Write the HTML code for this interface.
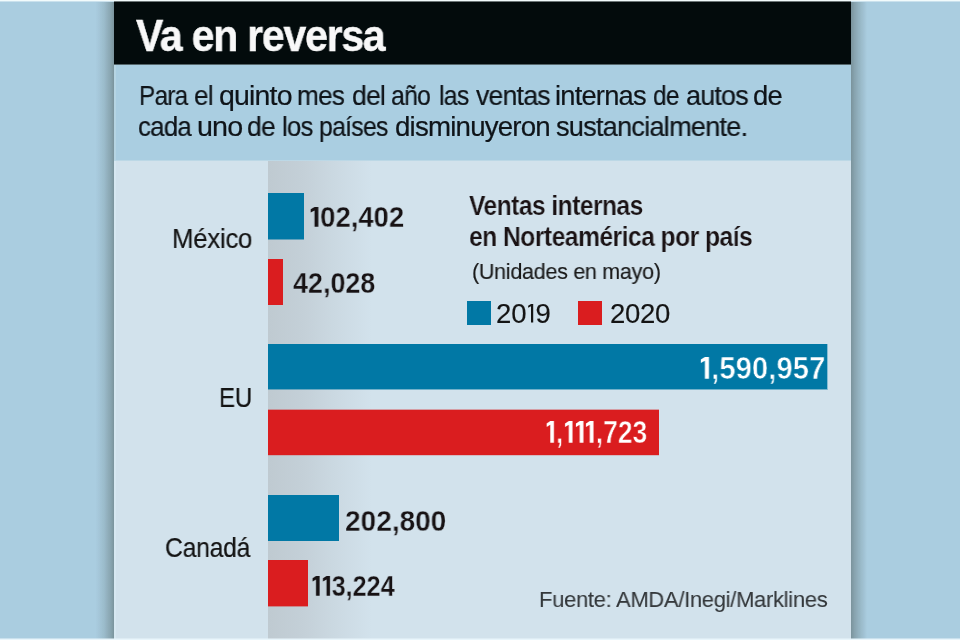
<!DOCTYPE html>
<html><head><meta charset="utf-8"><style>
html,body{margin:0;padding:0;}
body{width:960px;height:640px;position:relative;overflow:hidden;background:#aacde0;font-family:"Liberation Sans",sans-serif;}
.t{position:absolute;white-space:nowrap;}
body>div{will-change:transform;}
.r{position:absolute;}
</style></head><body>
<div class="r" style="left:96px;top:2px;width:18px;height:637px;background:linear-gradient(to right, rgba(122,147,155,0) 0%, rgba(122,147,155,0.3) 45%, rgba(122,147,155,0.75) 85%, rgba(122,147,155,1) 100%);"></div>
<div class="r" style="left:851px;top:2px;width:16px;height:637px;background:linear-gradient(to left, rgba(122,147,155,0) 0%, rgba(122,147,155,0.35) 40%, rgba(122,147,155,0.75) 80%, rgba(122,147,155,1) 100%);"></div>
<div class="r" style="left:114px;top:1px;width:737px;height:63px;background:#030b0c;"></div>
<div class="r" style="left:114px;top:64px;width:737px;height:1px;background:#56676c;"></div>
<div class="r" style="left:114px;top:65px;width:737px;height:95px;background:#aacee1;"></div>
<div class="r" style="left:114px;top:160px;width:737px;height:1px;background:#bcd8e6;"></div>
<div class="r" style="left:114px;top:161px;width:737px;height:478px;background:#d2e2ec;"></div>
<div class="r" style="left:114px;top:65px;width:2px;height:95px;background:#b6d5e3;"></div>
<div class="r" style="left:114px;top:161px;width:2px;height:478px;background:#d7e8f1;"></div>
<div class="r" style="left:268px;top:161px;width:104px;height:478px;background:linear-gradient(to right, #bfcad1 0%, #c4d0d8 35%, #cbd9e2 65%, #d2e2ec 100%);"></div>
<div class="r" style="left:268px;top:193px;width:36px;height:46px;background:#0178a5;"></div>
<div class="r" style="left:268px;top:239px;width:36px;height:1px;background:rgba(1,120,165,0.5);"></div>
<div class="r" style="left:268px;top:259px;width:15px;height:46px;background:#da1d1f;"></div>
<div class="r" style="left:268px;top:344px;width:559px;height:45px;background:#0178a5;"></div>
<div class="r" style="left:268px;top:389px;width:559px;height:1px;background:rgba(1,120,165,0.45);"></div>
<div class="r" style="left:827px;top:344px;width:1px;height:46px;background:rgba(1,120,165,0.35);"></div>
<div class="r" style="left:268px;top:410px;width:391px;height:45px;background:#da1d1f;"></div>
<div class="r" style="left:268px;top:409px;width:391px;height:1px;background:rgba(218,29,31,0.35);"></div>
<div class="r" style="left:268px;top:455px;width:391px;height:1px;background:rgba(218,29,31,0.2);"></div>
<div class="r" style="left:268px;top:495px;width:71px;height:46px;background:#0178a5;"></div>
<div class="r" style="left:268px;top:560px;width:40px;height:46px;background:#da1d1f;"></div>
<div class="r" style="left:268px;top:606px;width:40px;height:1px;background:rgba(218,29,31,0.4);"></div>
<div class="r" style="left:467px;top:301px;width:24px;height:24px;background:#0178a5;"></div>
<div class="r" style="left:578px;top:301px;width:24px;height:24px;background:#da1d1f;"></div>
<div style="position:absolute;white-space:nowrap;left:135.53px;top:12.60px;font-size:45px;line-height:45px;font-weight:700;letter-spacing:-1.3px;transform:scaleX(0.9091);transform-origin:0 0;color:#f8f8f8;-webkit-text-stroke:0.5px #f8f8f8;">Va en reversa</div>
<div style="position:absolute;white-space:nowrap;left:171.68px;top:224.59px;font-size:28px;line-height:28px;font-weight:400;letter-spacing:-0.3px;transform:scaleX(0.9222);transform-origin:0 0;color:#141414;-webkit-text-stroke:0.2px #141414;">México</div>
<div style="position:absolute;white-space:nowrap;left:219.28px;top:383.99px;font-size:28px;line-height:28px;font-weight:400;letter-spacing:-0.3px;transform:scaleX(0.8591);transform-origin:0 0;color:#141414;-webkit-text-stroke:0.2px #141414;">EU</div>
<div style="position:absolute;white-space:nowrap;left:165.21px;top:533.99px;font-size:28px;line-height:28px;font-weight:400;letter-spacing:-0.3px;transform:scaleX(0.8837);transform-origin:0 0;color:#141414;-webkit-text-stroke:0.2px #141414;">Canadá</div>
<div style="position:absolute;white-space:nowrap;left:308.90px;top:202.53px;font-size:28.9px;line-height:28.9px;font-weight:700;transform:scaleX(0.9487);transform-origin:0 0;color:#171214;-webkit-text-stroke:0.3px #cfdee7;"><svg width="0.41em" height="0.688em" viewBox="0 0 410 688" style="vertical-align:baseline" fill="currentColor"><path d="M200 0H340V688H200V118L60 190V82Z"/></svg>02,402</div>
<div style="position:absolute;white-space:nowrap;left:292.52px;top:268.53px;font-size:28.9px;line-height:28.9px;font-weight:700;transform:scaleX(0.9314);transform-origin:0 0;color:#171214;-webkit-text-stroke:0.3px #cbd9e2;">42,028</div>
<div style="position:absolute;white-space:nowrap;left:698.95px;top:352.83px;font-size:31.5px;line-height:31.5px;font-weight:700;transform:scaleX(0.9321);transform-origin:0 0;color:#ffffff;-webkit-text-stroke:0.6px #0178a5;"><svg width="0.41em" height="0.688em" viewBox="0 0 410 688" style="vertical-align:baseline" fill="currentColor"><path d="M200 0H340V688H200V118L60 190V82Z"/></svg>,590,957</div>
<div style="position:absolute;white-space:nowrap;left:544.87px;top:416.83px;font-size:31.5px;line-height:31.5px;font-weight:700;transform:scaleX(0.8393);transform-origin:0 0;color:#ffffff;-webkit-text-stroke:0.6px #da1d1f;"><svg width="0.41em" height="0.688em" viewBox="0 0 410 688" style="vertical-align:baseline" fill="currentColor"><path d="M200 0H340V688H200V118L60 190V82Z"/></svg>,<svg width="0.41em" height="0.688em" viewBox="0 0 410 688" style="vertical-align:baseline" fill="currentColor"><path d="M200 0H340V688H200V118L60 190V82Z"/></svg><svg width="0.41em" height="0.688em" viewBox="0 0 410 688" style="vertical-align:baseline" fill="currentColor"><path d="M200 0H340V688H200V118L60 190V82Z"/></svg><svg width="0.41em" height="0.688em" viewBox="0 0 410 688" style="vertical-align:baseline" fill="currentColor"><path d="M200 0H340V688H200V118L60 190V82Z"/></svg>,723</div>
<div style="position:absolute;white-space:nowrap;left:345.03px;top:507.13px;font-size:28.9px;line-height:28.9px;font-weight:700;transform:scaleX(0.9706);transform-origin:0 0;color:#171214;-webkit-text-stroke:0.3px #d1e1eb;">202,800</div>
<div style="position:absolute;white-space:nowrap;left:310.81px;top:571.73px;font-size:28.9px;line-height:28.9px;font-weight:700;transform:scaleX(0.8711);transform-origin:0 0;color:#171214;-webkit-text-stroke:0.3px #cad8e1;"><svg width="0.41em" height="0.688em" viewBox="0 0 410 688" style="vertical-align:baseline" fill="currentColor"><path d="M200 0H340V688H200V118L60 190V82Z"/></svg><svg width="0.41em" height="0.688em" viewBox="0 0 410 688" style="vertical-align:baseline" fill="currentColor"><path d="M200 0H340V688H200V118L60 190V82Z"/></svg>3,224</div>
<div style="position:absolute;white-space:nowrap;left:468.54px;top:193.42px;font-size:26.9px;line-height:26.9px;font-weight:700;letter-spacing:-0.6px;transform:scaleX(0.9154);transform-origin:0 0;color:#1a1214;-webkit-text-stroke:0.2px #d2e2ec;">Ventas internas</div>
<div style="position:absolute;white-space:nowrap;left:468.62px;top:223.52px;font-size:26.9px;line-height:26.9px;font-weight:700;letter-spacing:-0.6px;transform:scaleX(0.9183);transform-origin:0 0;color:#1a1214;-webkit-text-stroke:0.2px #d2e2ec;">en Norteamérica por país</div>
<div style="position:absolute;white-space:nowrap;left:471.83px;top:260.67px;font-size:22px;line-height:22px;font-weight:400;letter-spacing:-0.3px;transform:scaleX(0.9791);transform-origin:0 0;color:#1a1a1a;-webkit-text-stroke:0.15px #1a1a1a;">(Unidades en mayo)</div>
<div style="position:absolute;white-space:nowrap;left:495.67px;top:301.14px;font-size:27px;line-height:27px;font-weight:400;transform:scaleX(1.0205);transform-origin:0 0;color:#141414;-webkit-text-stroke:0.15px #141414;">20<svg width="0.32em" height="0.688em" viewBox="0 0 320 688" style="vertical-align:baseline" fill="currentColor"><path d="M160 0H240V688H160V80L55 135V62Z"/></svg>9</div>
<div style="position:absolute;white-space:nowrap;left:610.14px;top:301.14px;font-size:27px;line-height:27px;font-weight:400;letter-spacing:-0.3px;transform:scaleX(1.0196);transform-origin:0 0;color:#141414;-webkit-text-stroke:0.15px #141414;">2020</div>
<div style="position:absolute;white-space:nowrap;left:538.88px;top:588.40px;font-size:22.8px;line-height:22.8px;font-weight:400;letter-spacing:-0.3px;transform:scaleX(0.9630);transform-origin:0 0;color:#34383b;-webkit-text-stroke:0.1px #34383b;">Fuente: AMDA/Inegi/Marklines</div>
<div style="position:absolute;white-space:nowrap;left:139.03px;top:82.49px;font-size:27.3px;line-height:27.3px;font-weight:400;letter-spacing:-0.8px;transform:scaleX(0.8908);transform-origin:0 0;color:#0f1419;-webkit-text-stroke:0.2px #0f1419;">Para</div>
<div style="position:absolute;white-space:nowrap;left:194.04px;top:82.49px;font-size:27.3px;line-height:27.3px;font-weight:400;letter-spacing:-0.8px;transform:scaleX(0.9561);transform-origin:0 0;color:#0f1419;-webkit-text-stroke:0.2px #0f1419;">el</div>
<div style="position:absolute;white-space:nowrap;left:218.96px;top:82.49px;font-size:27.3px;line-height:27.3px;font-weight:400;letter-spacing:-0.8px;transform:scaleX(1.0445);transform-origin:0 0;color:#0f1419;-webkit-text-stroke:0.2px #0f1419;">quinto</div>
<div style="position:absolute;white-space:nowrap;left:297.25px;top:82.49px;font-size:27.3px;line-height:27.3px;font-weight:400;letter-spacing:-0.8px;transform:scaleX(0.9598);transform-origin:0 0;color:#0f1419;-webkit-text-stroke:0.2px #0f1419;">mes</div>
<div style="position:absolute;white-space:nowrap;left:351.54px;top:82.49px;font-size:27.3px;line-height:27.3px;font-weight:400;letter-spacing:-0.8px;transform:scaleX(0.9712);transform-origin:0 0;color:#0f1419;-webkit-text-stroke:0.2px #0f1419;">del</div>
<div style="position:absolute;white-space:nowrap;left:390.79px;top:82.49px;font-size:27.3px;line-height:27.3px;font-weight:400;letter-spacing:-0.8px;transform:scaleX(0.9067);transform-origin:0 0;color:#0f1419;-webkit-text-stroke:0.2px #0f1419;">año</div>
<div style="position:absolute;white-space:nowrap;left:438.91px;top:82.49px;font-size:27.3px;line-height:27.3px;font-weight:400;letter-spacing:-0.8px;transform:scaleX(0.9072);transform-origin:0 0;color:#0f1419;-webkit-text-stroke:0.2px #0f1419;">las</div>
<div style="position:absolute;white-space:nowrap;left:475.79px;top:82.49px;font-size:27.3px;line-height:27.3px;font-weight:400;letter-spacing:-0.8px;transform:scaleX(0.9759);transform-origin:0 0;color:#0f1419;-webkit-text-stroke:0.2px #0f1419;">ventas</div>
<div style="position:absolute;white-space:nowrap;left:554.71px;top:82.49px;font-size:27.3px;line-height:27.3px;font-weight:400;letter-spacing:-0.8px;transform:scaleX(1.0008);transform-origin:0 0;color:#0f1419;-webkit-text-stroke:0.2px #0f1419;">internas</div>
<div style="position:absolute;white-space:nowrap;left:653.34px;top:82.49px;font-size:27.3px;line-height:27.3px;font-weight:400;letter-spacing:-0.8px;transform:scaleX(0.8917);transform-origin:0 0;color:#0f1419;-webkit-text-stroke:0.2px #0f1419;">de</div>
<div style="position:absolute;white-space:nowrap;left:685.73px;top:82.49px;font-size:27.3px;line-height:27.3px;font-weight:400;letter-spacing:-0.8px;transform:scaleX(0.9853);transform-origin:0 0;color:#0f1419;-webkit-text-stroke:0.2px #0f1419;">autos</div>
<div style="position:absolute;white-space:nowrap;left:753.35px;top:82.49px;font-size:27.3px;line-height:27.3px;font-weight:400;letter-spacing:-0.8px;transform:scaleX(1.0054);transform-origin:0 0;color:#0f1419;-webkit-text-stroke:0.2px #0f1419;">de</div>
<div style="position:absolute;white-space:nowrap;left:138.27px;top:113.09px;font-size:27.3px;line-height:27.3px;font-weight:400;letter-spacing:-0.8px;transform:scaleX(0.9478);transform-origin:0 0;color:#0f1419;-webkit-text-stroke:0.2px #0f1419;">cada</div>
<div style="position:absolute;white-space:nowrap;left:197.10px;top:113.09px;font-size:27.3px;line-height:27.3px;font-weight:400;letter-spacing:-0.8px;transform:scaleX(1.0510);transform-origin:0 0;color:#0f1419;-webkit-text-stroke:0.2px #0f1419;">uno</div>
<div style="position:absolute;white-space:nowrap;left:247.33px;top:113.09px;font-size:27.3px;line-height:27.3px;font-weight:400;letter-spacing:-0.8px;transform:scaleX(0.9691);transform-origin:0 0;color:#0f1419;-webkit-text-stroke:0.2px #0f1419;">de</div>
<div style="position:absolute;white-space:nowrap;left:282.14px;top:113.09px;font-size:27.3px;line-height:27.3px;font-weight:400;letter-spacing:-0.8px;transform:scaleX(0.9398);transform-origin:0 0;color:#0f1419;-webkit-text-stroke:0.2px #0f1419;">los</div>
<div style="position:absolute;white-space:nowrap;left:319.00px;top:113.09px;font-size:27.3px;line-height:27.3px;font-weight:400;letter-spacing:-0.8px;transform:scaleX(0.9077);transform-origin:0 0;color:#0f1419;-webkit-text-stroke:0.2px #0f1419;">países</div>
<div style="position:absolute;white-space:nowrap;left:394.81px;top:113.09px;font-size:27.3px;line-height:27.3px;font-weight:400;letter-spacing:-0.8px;transform:scaleX(1.0145);transform-origin:0 0;color:#0f1419;-webkit-text-stroke:0.2px #0f1419;">disminuyeron</div>
<div style="position:absolute;white-space:nowrap;left:555.70px;top:113.09px;font-size:27.3px;line-height:27.3px;font-weight:400;letter-spacing:-0.8px;transform:scaleX(0.9965);transform-origin:0 0;color:#0f1419;-webkit-text-stroke:0.2px #0f1419;">sustancialmente.</div>
<div class="r" style="left:0px;top:0px;width:960px;height:1px;background:#f2fbfc;"></div>
<div class="r" style="left:0px;top:1px;width:960px;height:1px;background:rgba(242,251,252,0.45);"></div>
<div class="r" style="left:0px;top:639px;width:960px;height:1px;background:#e9f6fc;"></div>
<div class="r" style="left:0px;top:638px;width:960px;height:1px;background:rgba(233,246,252,0.5);"></div>
</body></html>
